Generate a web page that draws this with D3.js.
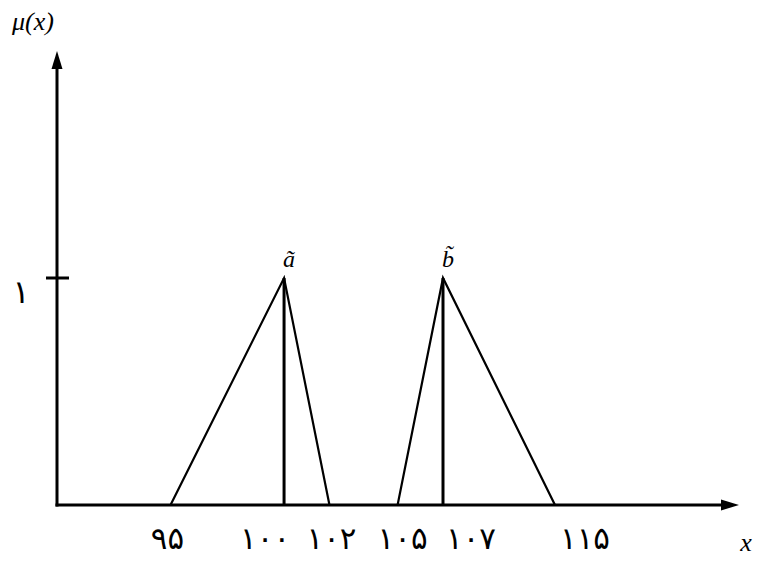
<!DOCTYPE html>
<html>
<head>
<meta charset="utf-8">
<script src="https://cdn.jsdelivr.net/npm/d3@7"></script>
<style>
  html, body { margin: 0; padding: 0; background: #fff; }
  svg { display: block; }
  .math { font-family: "Liberation Serif", "DejaVu Serif", serif; font-style: italic; }
  .fa { font-family: "DejaVu Sans", sans-serif; }
</style>
</head>
<body>
<svg id="chart" width="757" height="562"></svg>
<script>
// Triangular fuzzy numbers (lower, modal, upper)
const fuzzyNames = ["ã", "b\u0303"];
const lowerBounds = [95, 105];
const modalValues = [100, 107];
const upperBounds = [102, 115];

// Axis ticks (Persian numerals)
const xTickValues = [95, 100, 102, 105, 107, 115];
const xTickLabels = ["۹۵", "۱۰۰", "۱۰۲", "۱۰۵", "۱۰۷", "۱۱۵"];
const yTickValues = [1];
const yTickLabels = ["۱"];

// small horizontal nudges for the numeral labels under the axis
const xLabelNudge = [-3, -19, 2, 5, 28, 30];

const svg = d3.select("#chart");

// schematic axis: the stretch past 107 is drawn compressed
const x = d3.scaleLinear().domain([90, 107, 115]).range([57, 443, 555]);
const y = d3.scaleLinear().domain([0, 2]).range([505, 51]);

const x0 = x(90), y0 = y(0);
const xEnd = 739, yEnd = y(2);

const g = svg.append("g");

// membership triangles
const tri = d3.line().x(d => x(d[0])).y(d => y(d[1]));
fuzzyNames.forEach((name, i) => {
  g.append("path")
    .attr("d", tri([[lowerBounds[i], 0], [modalValues[i], 1], [upperBounds[i], 0]]))
    .attr("fill", "none").attr("stroke", "#000").attr("stroke-width", 2.2)
    .attr("stroke-linejoin", "miter");
  g.append("line")
    .attr("x1", x(modalValues[i])).attr("x2", x(modalValues[i]))
    .attr("y1", y(1)).attr("y2", y0)
    .attr("stroke", "#000").attr("stroke-width", 3);
  g.append("text").attr("class", "math")
    .attr("x", x(modalValues[i]) + 5).attr("y", y(1) - 11)
    .attr("text-anchor", "middle").attr("font-size", 24)
    .text(name);
});

// axes
g.append("line").attr("x1", x0 - 1.5).attr("x2", xEnd - 14).attr("y1", y0).attr("y2", y0)
  .attr("stroke", "#000").attr("stroke-width", 3);
g.append("line").attr("x1", x0).attr("x2", x0).attr("y1", y0 + 1.5).attr("y2", yEnd + 14)
  .attr("stroke", "#000").attr("stroke-width", 3);
// arrowheads
g.append("path").attr("d", `M${xEnd},${y0} L${xEnd - 18},${y0 - 5.5} L${xEnd - 18},${y0 + 5.5} Z`).attr("fill", "#000");
g.append("path").attr("d", `M${x0},${yEnd} L${x0 - 5.5},${yEnd + 18} L${x0 + 5.5},${yEnd + 18} Z`).attr("fill", "#000");

// y ticks
yTickValues.forEach((v, i) => {
  g.append("line").attr("x1", x0 - 11).attr("x2", x0 + 12)
    .attr("y1", y(v)).attr("y2", y(v)).attr("stroke", "#000").attr("stroke-width", 3);
  g.append("text").attr("class", "fa")
    .attr("x", 21).attr("y", y(v) + 25)
    .attr("text-anchor", "middle").attr("font-size", 32)
    .text(yTickLabels[i]);
});

// x tick labels
xTickValues.forEach((v, i) => {
  g.append("text").attr("class", "fa")
    .attr("x", x(v) + xLabelNudge[i]).attr("y", 549)
    .attr("text-anchor", "middle").attr("font-size", 31)
    .attr("letter-spacing", 2)
    .text(xTickLabels[i]);
});

// axis titles
g.append("text").attr("class", "math").attr("x", 12).attr("y", 30)
  .attr("font-size", 26).text("μ(x)");
g.append("text").attr("class", "math").attr("x", 746).attr("y", 551)
  .attr("text-anchor", "middle").attr("font-size", 26).text("x");
</script>
</body>
</html>
